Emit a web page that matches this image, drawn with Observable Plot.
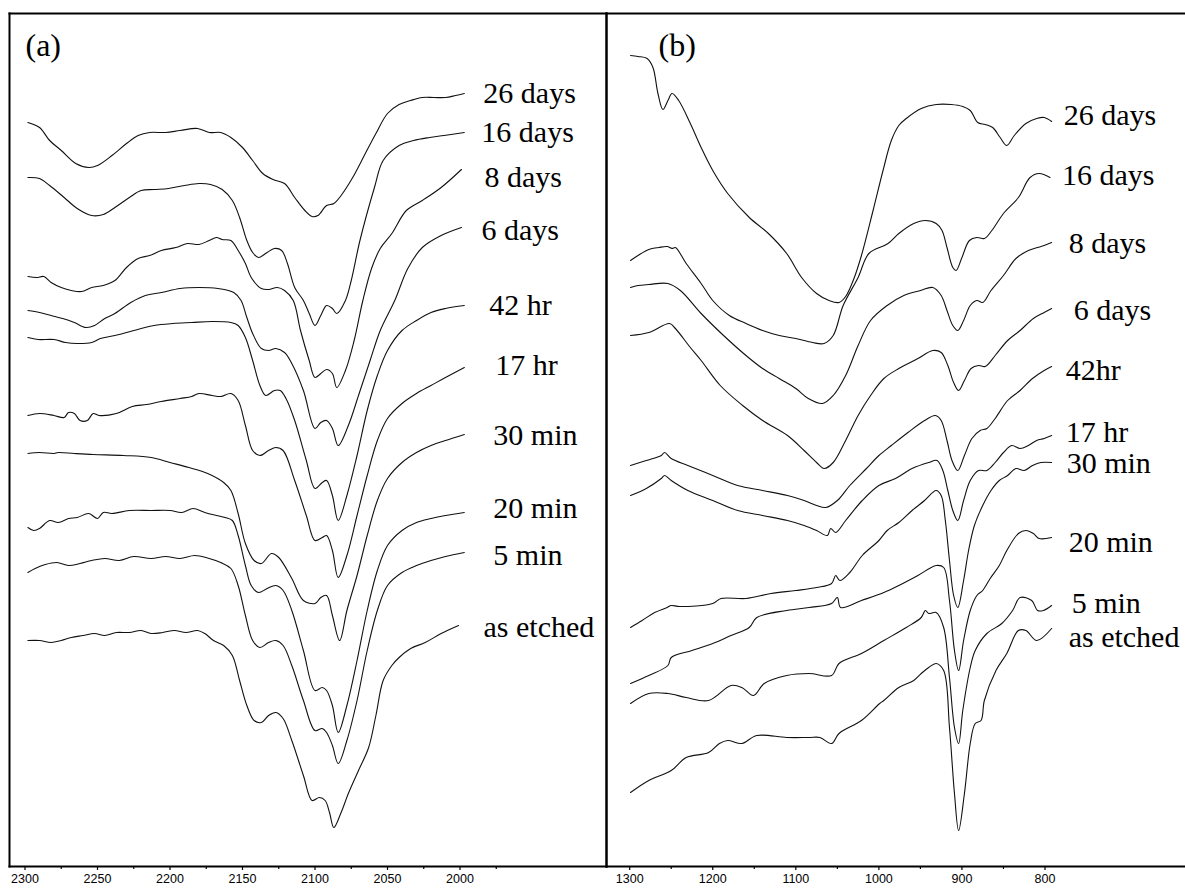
<!DOCTYPE html>
<html><head><meta charset="utf-8">
<script src="https://cdn.jsdelivr.net/npm/d3@7"></script>
<script src="https://cdn.jsdelivr.net/npm/@observablehq/plot@0.6"></script>
<style>
body{margin:0;background:#fff}
#wrap{position:relative;width:1185px;height:890px;overflow:hidden;background:#fff}
#wrap svg{position:absolute;top:0}
</style></head><body><div id="wrap"></div>
<script>
// Values: [wavenumber (cm^-1), offset absorbance (a.u., plotted downward)]
const labelsA = ["26 days","16 days","8 days","6 days","42 hr","17 hr","30 min","20 min","5 min","as etched"];
const labelsB = ["26 days","16 days","8 days","6 days","42hr","17 hr","30 min","20 min","5 min","as etched"];
const ticksA = [2300,2250,2200,2150,2100,2050,2000];
const minorA = [2275,2225,2175,2125,2075,2025,1975];
const ticksB = [1300,1200,1100,1000,900,800];
const minorB = [1250,1150,1050,950,850];

const a26 = [[2298,122],[2290,127],[2283,140],[2275,150],[2265,163],[2256,167],[2250,165],[2240,155],[2230,143],[2222,135],[2214,132],[2203,132],[2193,130],[2181,128],[2173,132],[2165,132],[2158,137],[2150,147],[2143,160],[2136,173],[2129,179],[2121,183],[2114,197],[2107,210],[2102,216],[2098,215],[2092,205],[2087,203],[2082,195],[2074,177],[2066,155],[2058,133],[2050,113],[2042,104],[2034,100],[2026,97],[2018,97],[2010,97],[2003,95],[1997,93]];
const a16 = [[2298,177],[2290,178],[2283,185],[2273,197],[2264,208],[2254,215],[2246,214],[2238,207],[2228,197],[2220,190],[2211,189],[2201,188],[2190,185],[2180,183],[2172,184],[2164,189],[2157,200],[2152,217],[2147,240],[2143,252],[2139,257],[2133,252],[2128,248],[2123,250],[2119,263],[2114,287],[2108,300],[2104,313],[2100,325],[2096,315],[2092,305],[2088,308],[2085,313],[2079,300],[2075,280],[2069,240],[2059,187],[2053,160],[2042,145],[2032,140],[2021,137],[2011,135],[1997,132]];
const a8 = [[2298,276],[2292,277],[2287,276],[2282,282],[2275,287],[2268,290],[2261,291],[2254,287],[2246,285],[2238,280],[2230,267],[2222,258],[2214,255],[2206,250],[2196,247],[2188,243],[2180,244],[2173,240],[2168,237],[2164,239],[2158,240],[2153,250],[2148,263],[2144,277],[2137,288],[2132,289],[2126,287],[2121,290],[2115,300],[2110,330],[2104,360],[2100,377],[2096,373],[2092,369],[2088,373],[2085,387],[2079,370],[2073,340],[2067,300],[2061,268],[2055,248],[2047,233],[2037,210],[2026,200],[2013,187],[1999,169]];
const a6 = [[2298,310],[2290,312],[2282,315],[2274,318],[2266,322],[2258,327],[2252,325],[2245,318],[2238,313],[2227,302],[2217,295],[2206,292],[2193,288],[2180,287],[2167,288],[2156,292],[2151,300],[2147,317],[2143,333],[2137,348],[2132,350],[2127,348],[2121,352],[2116,363],[2108,390],[2100,428],[2096,422],[2092,420],[2088,428],[2084,445],[2077,425],[2070,395],[2062,360],[2055,330],[2045,300],[2036,268],[2026,247],[2013,235],[1999,227]];
const a42h = [[2298,337],[2291,339],[2280,339],[2272,342],[2264,343],[2254,342],[2248,338],[2238,335],[2225,330],[2211,325],[2198,323],[2185,322],[2171,321],[2158,322],[2153,325],[2148,337],[2143,360],[2138,385],[2134,395],[2128,390],[2124,390],[2120,398],[2114,420],[2106,460],[2100,488],[2095,482],[2092,480],[2088,495],[2084,520],[2078,495],[2071,455],[2064,410],[2057,375],[2050,350],[2040,330],[2030,320],[2020,312],[2010,308],[1997,305]];
const a17h = [[2298,415],[2290,413],[2280,415],[2273,417],[2270,412],[2266,413],[2262,420],[2257,420],[2253,413],[2249,415],[2237,413],[2226,406],[2216,404],[2206,401],[2193,398],[2185,396],[2180,393],[2171,395],[2165,396],[2158,393],[2153,400],[2148,425],[2143,450],[2138,455],[2132,450],[2127,447],[2122,450],[2114,480],[2106,515],[2100,540],[2095,537],[2092,535],[2088,550],[2084,577],[2078,555],[2071,515],[2064,475],[2057,440],[2050,418],[2040,403],[2030,393],[2020,385],[2010,377],[1997,367]];
const a30m = [[2298,453],[2290,452],[2280,453],[2277,452],[2266,453],[2253,454],[2232,455],[2213,457],[2200,462],[2187,467],[2174,473],[2163,482],[2158,490],[2153,513],[2148,543],[2142,560],[2137,563],[2130,553],[2125,557],[2116,578],[2108,600],[2100,603],[2096,597],[2092,595],[2088,615],[2083,640],[2078,610],[2071,575],[2064,535],[2057,500],[2050,478],[2040,462],[2030,452],[2020,445],[2010,440],[1997,434]];
const a20m = [[2298,527],[2294,530],[2290,528],[2283,520],[2277,522],[2270,518],[2264,517],[2256,513],[2250,518],[2246,512],[2240,513],[2228,510],[2213,510],[2200,510],[2192,512],[2184,508],[2176,512],[2168,515],[2162,517],[2157,520],[2153,535],[2148,565],[2144,585],[2139,592],[2133,588],[2127,585],[2122,590],[2116,610],[2108,650],[2100,690],[2095,687],[2092,690],[2088,705],[2084,732],[2078,705],[2071,660],[2064,610],[2057,570],[2050,545],[2040,530],[2030,522],[2020,518],[2010,515],[1997,512]];
const a5m = [[2298,572],[2293,568],[2286,564],[2278,562],[2270,565],[2262,563],[2254,560],[2245,558],[2235,560],[2225,556],[2213,558],[2203,556],[2193,558],[2183,555],[2173,558],[2165,562],[2158,568],[2153,585],[2148,615],[2143,640],[2138,647],[2132,642],[2127,640],[2122,645],[2116,665],[2108,700],[2100,730],[2095,728],[2092,732],[2088,745],[2084,763],[2078,740],[2071,700],[2064,650],[2057,610],[2050,585],[2040,572],[2030,565],[2020,560],[2010,556],[1997,552]];
const aAE = [[2298,640],[2290,640],[2282,642],[2275,640],[2268,637],[2260,635],[2252,633],[2245,635],[2237,632],[2228,632],[2220,630],[2213,633],[2205,632],[2197,630],[2189,632],[2181,630],[2176,633],[2170,640],[2163,645],[2157,655],[2152,680],[2147,705],[2142,720],[2137,722],[2132,715],[2127,712],[2122,718],[2116,740],[2108,775],[2102,800],[2097,797],[2093,800],[2090,812],[2087,827],[2082,812],[2077,793],[2070,770],[2063,747],[2058,715],[2053,680],[2047,665],[2042,657],[2034,648],[2024,642],[2013,633],[2001,625]];

const b26 = [[1299,55],[1290,56],[1279,58],[1272,67],[1266,93],[1260,109],[1254,100],[1249,93],[1241,100],[1227,123],[1214,147],[1200,170],[1182,193],[1156,217],[1133,233],[1111,253],[1093,277],[1075,293],[1060,300],[1048,302],[1040,296],[1030,278],[1021,255],[1007,210],[995,170],[985,140],[976,125],[967,118],[949,108],[931,104],[913,104],[899,106],[890,110],[881,122],[872,124],[863,127],[854,137],[846,145],[837,135],[823,123],[810,118],[801,117],[792,121]];
const b16 = [[1299,260],[1290,255],[1277,249],[1265,247],[1255,246],[1249,248],[1245,247],[1232,263],[1214,283],[1200,300],[1180,315],[1160,323],[1140,330],[1120,335],[1100,338],[1080,342],[1066,343],[1055,335],[1043,305],[1025,277],[1012,253],[989,243],[976,233],[958,223],[944,220],[931,223],[924,230],[918,247],[911,267],[907,270],[900,257],[891,240],[882,237],[873,238],[864,230],[850,213],[832,197],[818,177],[807,173],[794,177]];
const b8 = [[1299,287],[1290,285],[1277,284],[1254,283],[1239,290],[1214,313],[1187,335],[1160,355],[1140,368],[1120,378],[1100,388],[1085,398],[1068,403],[1055,395],[1040,375],[1025,345],[1010,320],[990,305],[970,295],[950,290],[935,287],[925,295],[918,310],[911,325],[905,330],[898,320],[890,305],[882,300],[875,302],[865,290],[850,275],[835,258],[820,250],[809,247],[801,245],[792,242]];
const b6 = [[1299,335],[1277,332],[1252,323],[1245,328],[1227,347],[1214,360],[1191,385],[1164,405],[1140,420],[1110,435],[1090,450],[1075,462],[1066,468],[1055,462],[1040,440],[1025,415],[1010,395],[994,378],[976,368],[953,358],[935,350],[925,352],[917,365],[910,382],[904,390],[897,380],[889,368],[880,365],[872,366],[860,355],[845,340],[830,330],[814,318],[801,312],[792,308]];
const b42h = [[1299,465],[1280,460],[1262,455],[1258,452],[1250,458],[1230,465],[1200,475],[1170,485],[1140,490],[1110,495],[1090,500],[1075,505],[1064,507],[1050,500],[1035,485],[1015,468],[1000,455],[985,445],[965,432],[945,420],[932,415],[925,420],[918,440],[912,460],[905,470],[897,455],[888,438],[878,430],[870,428],[860,418],[845,400],[830,390],[815,378],[801,370],[792,366]];
const b17h = [[1299,495],[1280,488],[1262,478],[1258,475],[1250,480],[1230,490],[1200,500],[1170,510],[1140,515],[1110,520],[1090,525],[1075,530],[1062,535],[1058,528],[1052,532],[1040,520],[1020,500],[1000,485],[980,478],[960,468],[940,462],[930,460],[923,470],[917,490],[911,510],[905,520],[898,500],[890,480],[880,470],[870,470],[860,462],[850,452],[840,445],[830,448],[820,445],[810,440],[801,438],[792,435]];
const b30m = [[1299,627],[1285,620],[1270,612],[1255,607],[1250,605],[1240,606],[1200,603],[1190,598],[1160,598],[1130,593],[1100,590],[1075,587],[1057,583],[1052,575],[1047,580],[1035,572],[1020,555],[1000,540],[990,530],[976,522],[960,510],[945,500],[931,490],[925,495],[920,520],[915,560],[910,595],[905,607],[898,580],[892,550],[885,525],[875,505],[865,490],[855,480],[845,475],[835,468],[825,470],[815,465],[805,462],[792,462]];
const b20m = [[1299,683],[1277,675],[1254,665],[1250,657],[1225,650],[1200,643],[1178,635],[1156,627],[1147,617],[1111,610],[1084,607],[1057,603],[1050,597],[1046,607],[1021,600],[994,592],[976,585],[953,575],[931,565],[922,567],[915,600],[909,650],[904,670],[898,640],[890,610],[882,595],[875,590],[866,578],[855,565],[846,550],[832,533],[823,530],[814,533],[807,538],[792,537]];
const b5m = [[1299,703],[1277,693],[1254,693],[1232,697],[1205,700],[1178,685],[1165,687],[1151,695],[1138,683],[1111,675],[1084,673],[1057,675],[1048,663],[1021,653],[994,640],[967,627],[949,617],[944,610],[940,613],[931,612],[922,627],[915,677],[909,727],[904,743],[899,710],[890,667],[884,650],[870,633],[852,623],[839,610],[830,597],[816,600],[809,610],[802,610],[792,605]];
const bAE = [[1299,792],[1277,780],[1250,770],[1232,757],[1205,752],[1192,743],[1182,740],[1165,743],[1147,735],[1111,737],[1084,737],[1071,737],[1057,743],[1048,733],[1021,720],[999,703],[994,700],[976,687],[958,680],[949,673],[940,667],[931,663],[922,670],[915,727],[909,793],[904,830],[897,793],[890,743],[884,723],[877,720],[873,700],[859,670],[846,653],[832,630],[823,630],[810,640],[792,628]];

const seriesA = [a26,a16,a8,a6,a42h,a17h,a30m,a20m,a5m,aAE];
const seriesB = [b26,b16,b8,b6,b42h,b17h,b30m,b20m,b5m,bAE];

function rows(series, labels){
  return series.flatMap((s,i)=>s.map(([w,a])=>({series:labels[i], w, a})));
}
function ends(series, labels){
  return series.map((s,i)=>{const p=s[s.length-1]; return {i, series:labels[i], w:p[0], a:p[1]};});
}

const serif = "'Liberation Serif','Times New Roman',serif";
const sans = "'Liberation Sans',Arial,sans-serif";
const H = 890, TOP = 13, BOT = 24;

function panel({series, labels, width, left, marginRight, sides, domain, range, ticks, minor, tag, tagDx, nudgeX, nudgeY}){
  const endPts = ends(series, labels);
  const svg = Plot.plot({
    width, height: H,
    marginTop: TOP, marginBottom: BOT, marginLeft: 2, marginRight,
    x: {domain, range, axis: null, label: null},
    y: {domain: [TOP, H - BOT], range: [TOP, H - BOT], axis: null, label: null},
    style: {background: "transparent", overflow: "visible"},
    marks: [
      Plot.line(rows(series, labels), {x: "w", y: "a", z: "series", curve: "catmull-rom", stroke: "#111", strokeWidth: 1.1}),
      ...endPts.map(p => Plot.text([p], {x: "w", y: "a", text: "series", textAnchor: "start", lineAnchor: "middle", dx: nudgeX[p.i], dy: nudgeY[p.i], fontFamily: serif, fontSize: 30, fill: "#000"})),
      Plot.text([tag], {frameAnchor: "top-left", text: d => d, textAnchor: "start", lineAnchor: "top", dx: tagDx, dy: 20, fontFamily: serif, fontSize: 32, fill: "#000"}),
      Plot.axisX({ticks: minor, tickSize: 3, tickFormat: () => "", strokeWidth: 1.2, label: null}),
      Plot.axisX({ticks, tickSize: 4, tickPadding: 4, tickFormat: d => String(d), fontSize: 12.5, fontFamily: sans, fill: "#000", strokeWidth: 1.2, label: null}),
      ...sides.map(anchor => Plot.frame({anchor, stroke: "#000", strokeWidth: 2}))
    ]
  });
  svg.style.left = left + "px";
  document.getElementById("wrap").appendChild(svg);
}

panel({series: seriesA, labels: labelsA, width: 601, left: 7, marginRight: 2, sides: ["top","right","bottom","left"],
  domain: [2300, 2000], range: [24.5 - 7, 459.5 - 7], ticks: ticksA, minor: minorA, tag: "(a)", tagDx: 16,
  nudgeX: [19,17,23,20,25,31,29,29,29,25], nudgeY: [0,0,8,3,0,-2,1,-4,3,2]});
panel({series: seriesB, labels: labelsB, width: 581, left: 604, marginRight: 0, sides: ["top","bottom","left"],
  domain: [1300, 800], range: [629.2 - 604, 1044.5 - 604], ticks: ticksB, minor: minorB, tag: "(b)", tagDx: 52,
  nudgeX: [12,12,17,22,14,14,15,17,20,17], nudgeY: [-6,-2,1,2,4,-3,1,5,-2,9]});
</script></body></html>
